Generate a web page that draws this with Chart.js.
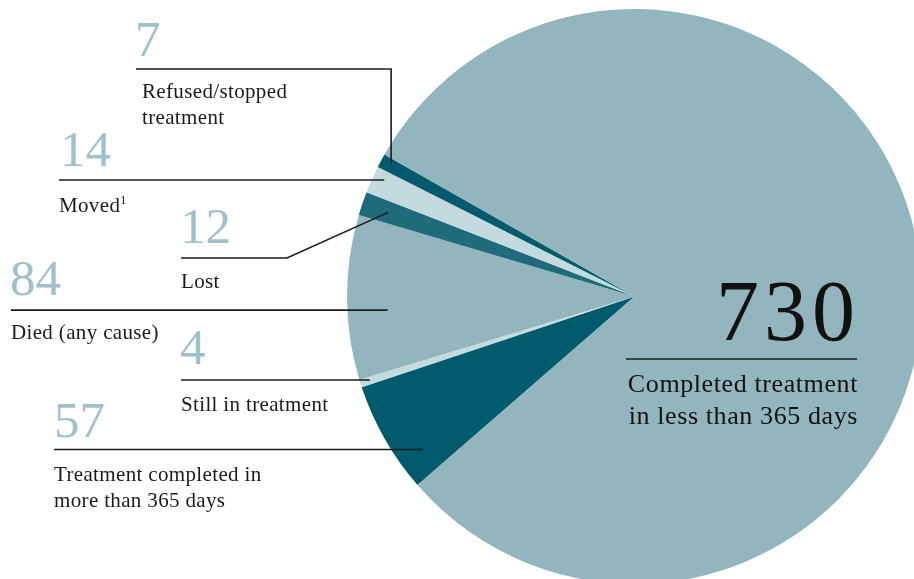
<!DOCTYPE html>
<html lang="en">
<head>
    <meta charset="UTF-8">
    <title>Treatment outcomes</title>
    <script src="https://cdn.jsdelivr.net/npm/chart.js"></script>
    <style>
        html, body { margin: 0; padding: 0; background: #fff; overflow: hidden; }
        #outcomes { position: absolute; left: 0; top: 0; }
    </style>
</head>
<body>
    <canvas id="outcomes" width="930" height="600"></canvas>

    <script>
        // outcomes, clockwise from the lower-left edge of the "more than 365 days" slice
        const outcomeNames = [
            ['Treatment completed in', 'more than 365 days'],
            ['Still in treatment'],
            ['Died (any cause)'],
            ['Lost'],
            ['Moved'],
            ['Refused/stopped', 'treatment'],
            ['Completed treatment', 'in less than 365 days']
        ];
        const outcomeCounts = [57, 4, 84, 12, 14, 7, 730];
        const sliceColors = ['#025b6d', '#c3dadf', '#93b5bd', '#1f6b7b', '#c3dadf', '#025b6d', '#93b5bd'];

        const SERIF = '"Liberation Serif", "DejaVu Serif", serif';
        const NUM_COLOR = '#a0c0ca';

        // label placement for the small slices: numX/numY = big number, lineX = left end of rule,
        // textY = first text baseline, at = [fraction along slice, fraction of radius] for the leader end
        const callouts = [
            { i: 0, numX: 54, numY: 437, lineX: 54, textY: 481, at: [0.23, 0.91] },
            { i: 1, numX: 180, numY: 364, lineX: 181, textY: 411, at: [0.55, 0.965] },
            { i: 2, numX: 10, numY: 295, lineX: 11, textY: 339, at: [0.41, 0.86] },
            { i: 3, numX: 180, numY: 243, lineX: 181, textY: 288, at: [0.5, 0.905], knee: 287 },
            { i: 4, numX: 60, numY: 166, lineX: 59, textY: 212, at: [0.67, 0.96], sup: '1' },
            { i: 5, numX: 135, numY: 56, lineX: 136, textX: 142, textY: 98, at: [0.68, 0.965], topY: 69 }
        ];

        const calloutPlugin = {
            id: 'callouts',
            afterDraw(chart) {
                const ctx = chart.ctx;
                const arcs = chart.getDatasetMeta(0).data;
                ctx.save();
                ctx.textBaseline = 'alphabetic';

                callouts.forEach(c => {
                    const arc = arcs[c.i];
                    const p = arc.getProps(['x', 'y', 'startAngle', 'endAngle', 'outerRadius'], true);
                    const a = p.startAngle + c.at[0] * (p.endAngle - p.startAngle);
                    const ex = p.x + Math.cos(a) * p.outerRadius * c.at[1];
                    const ey = p.y + Math.sin(a) * p.outerRadius * c.at[1];

                    // leader line
                    ctx.strokeStyle = '#1c1c1c';
                    ctx.lineWidth = 1.6;
                    ctx.beginPath();
                    if (c.topY !== undefined) {
                        ctx.moveTo(c.lineX, c.topY);
                        ctx.lineTo(ex, c.topY);
                        ctx.lineTo(ex, ey);
                    } else if (c.knee !== undefined) {
                        const ly = c.numY + 15;
                        ctx.moveTo(c.lineX, ly);
                        ctx.lineTo(c.knee, ly);
                        ctx.lineTo(ex, ey);
                    } else {
                        ctx.moveTo(c.lineX, ey);
                        ctx.lineTo(ex, ey);
                    }
                    ctx.stroke();

                    // count
                    ctx.fillStyle = NUM_COLOR;
                    ctx.textAlign = 'left';
                    ctx.font = '51px ' + SERIF;
                    ctx.fillText(String(outcomeCounts[c.i]), c.numX, c.numY);

                    // description
                    ctx.fillStyle = '#1a1a1a';
                    ctx.font = '21px ' + SERIF;
                    ctx.letterSpacing = '0.35px';
                    const tx = c.textX !== undefined ? c.textX : c.lineX;
                    outcomeNames[c.i].forEach((line, k) => {
                        ctx.fillText(line, tx, c.textY + k * 26);
                    });
                    if (c.sup) {
                        const w = ctx.measureText(outcomeNames[c.i][0]).width;
                        ctx.font = '12px ' + SERIF;
                        ctx.fillText(c.sup, tx + w, c.textY - 8);
                    }
                    ctx.letterSpacing = '0px';
                });

                // the large slice gets its label inside the pie
                const big = outcomeCounts.length - 1;
                ctx.fillStyle = '#111';
                ctx.textAlign = 'right';
                ctx.font = '86px ' + SERIF;
                ctx.letterSpacing = '5px';
                ctx.fillText(String(outcomeCounts[big]), 860, 340);
                ctx.strokeStyle = '#1c1c1c';
                ctx.lineWidth = 1.6;
                ctx.beginPath();
                ctx.moveTo(626, 359);
                ctx.lineTo(857, 359);
                ctx.stroke();
                ctx.font = '26px ' + SERIF;
                ctx.letterSpacing = '0.6px';
                outcomeNames[big].forEach((line, k) => {
                    ctx.fillText(line, 858, 392 + k * 32);
                });
                ctx.restore();
            }
        };

        new Chart(document.getElementById('outcomes'), {
            type: 'pie',
            data: {
                labels: outcomeNames.map(n => n.join(' ')),
                datasets: [{
                    data: outcomeCounts,
                    backgroundColor: sliceColors,
                    borderWidth: 0,
                    hoverOffset: 0
                }]
            },
            options: {
                responsive: false,
                animation: false,
                rotation: 229,
                layout: { padding: { left: 347, top: 9, right: 8, bottom: 16 } },
                plugins: {
                    legend: { display: false },
                    tooltip: { enabled: false }
                },
                events: []
            },
            plugins: [calloutPlugin]
        });
    </script>
</body>
</html>
